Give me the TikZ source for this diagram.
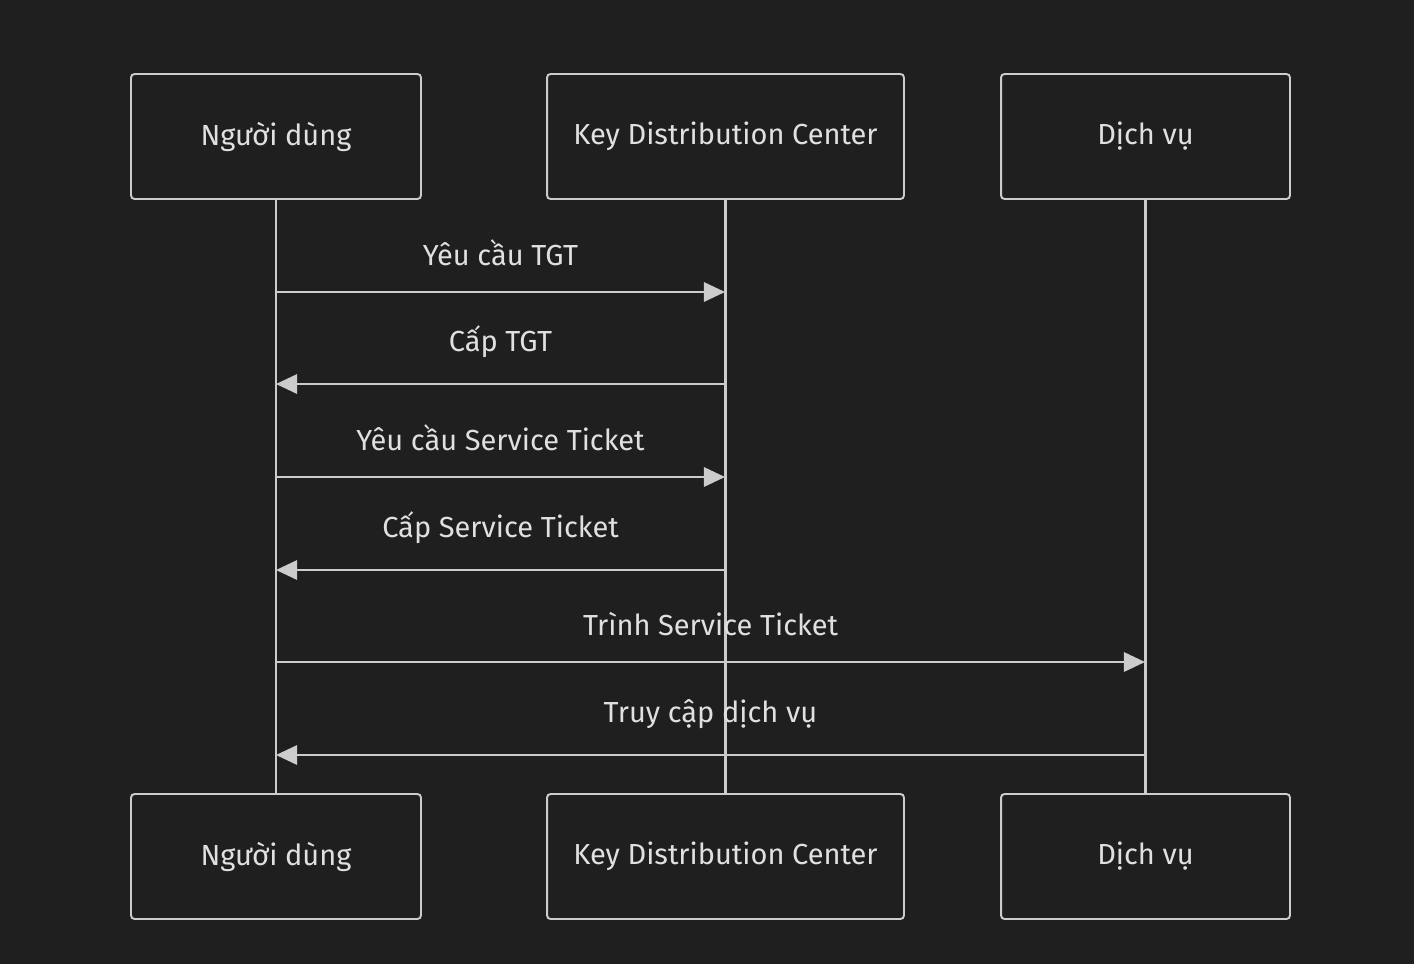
\documentclass[tikz,border=0pt]{standalone}
\usepackage{fontspec}
\setmainfont{Fira Sans}
\usetikzlibrary{positioning, arrows.meta, calc}
\definecolor{bgdark}{HTML}{1F1F1F}
\definecolor{linegray}{HTML}{CCCCCC}
\definecolor{textgray}{HTML}{E0E0E0}
\tikzset{
	actor/.style={draw=linegray, fill=bgdark, line width=1.1pt, rounded corners=2pt, minimum height=2.5cm, text=textgray, font=\fontsize{16.5}{19}\selectfont},
	msg/.style={draw=linegray, line width=1.3pt, -{Triangle[length=12pt,width=11pt]}},
	msglabel/.style={text=textgray, font=\fontsize{16.5}{19}\selectfont, above=0.4cm}
}
\begin{document}
\begin{tikzpicture}[x=0.02cm, y=-0.02cm]
	\fill[bgdark] (0,0) rectangle (1414,964);
	\useasboundingbox (0,0) rectangle (1414,964);
	% participants
	\node[actor, minimum width=5.8cm]  (user)  at (276,136.5) {Người dùng};
	\node[actor, minimum width=7.14cm] (kdc)   at (725.5,136.5) {Key Distribution Center};
	\node[actor, minimum width=5.78cm] (svc)   at (1145.5,136.5) {Dịch vụ};
	\node[actor, minimum width=5.8cm]  (userB) at (276,856.5) {Người dùng};
	\node[actor, minimum width=7.14cm] (kdcB)  at (725.5,856.5) {Key Distribution Center};
	\node[actor, minimum width=5.78cm] (svcB)  at (1145.5,856.5) {Dịch vụ};
	% lifelines
	\draw[linegray, line width=1.3pt] (user) -- (userB);
	\draw[linegray, line width=1.3pt] (kdc) -- (kdcB);
	\draw[linegray, line width=1.3pt] (svc) -- (svcB);
	% messages
	\foreach \y/\a/\b/\t in {292/276/725/{Yêu cầu TGT}, 384/725/276/{Cấp TGT}, 477/276/725/{Yêu cầu Service Ticket}, 570/725/276/{Cấp Service Ticket}, 662/276/1145/{Trình Service Ticket}, 755/1145/276/{Truy cập dịch vụ}}{
		\coordinate (from) at (\a,\y);
		\coordinate (to) at (\b,\y);
		\draw[msg] (from) -- (to);
		\node[msglabel] (lbl) at ($(from)!0.5!(to)$) {\t};
	}
\end{tikzpicture}
\end{document}
